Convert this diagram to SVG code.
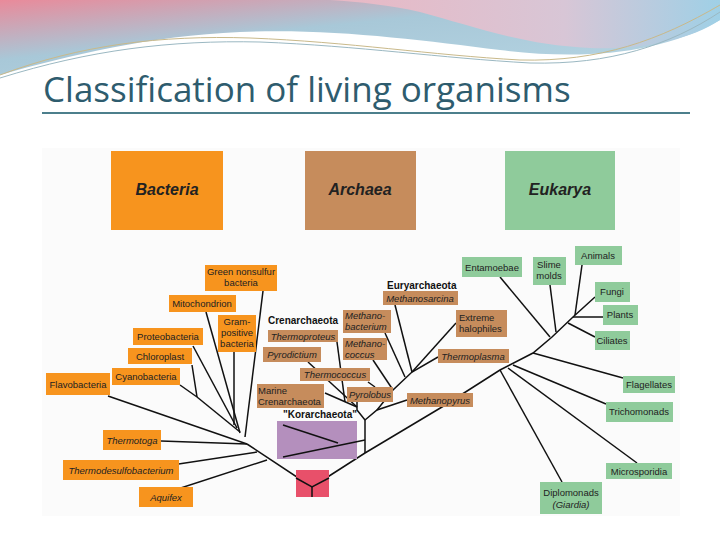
<svg xmlns="http://www.w3.org/2000/svg" width="720" height="540" viewBox="0 0 720 540">
<defs>
<linearGradient id="g1" x1="0" y1="0" x2="1" y2="1"><stop offset="0" stop-color="#e98a9a"/><stop offset="0.4" stop-color="#a8c8d8"/><stop offset="1" stop-color="#b7d6e4"/></linearGradient>
<linearGradient id="g2" x1="0" y1="0" x2="1" y2="0"><stop offset="0" stop-color="#e9b8c4"/><stop offset="0.6" stop-color="#d8c6d6"/><stop offset="1" stop-color="#9fd0e6"/></linearGradient>
<style>
.t{font-family:"Liberation Sans",Arial,sans-serif;font-size:9.5px;fill:#222}
.i{font-style:italic}
.h{font-family:"Liberation Sans",Arial,sans-serif;font-size:16px;font-weight:bold;font-style:italic;fill:#222;text-anchor:middle}
.b{font-family:"Liberation Sans",Arial,sans-serif;font-size:10px;font-weight:bold;fill:#111}
.o{fill:#f7941e}.r{fill:#c68c5c}.g{fill:#8fcb9b}
#edges line,#edges polyline{stroke:#111;stroke-width:1.5;fill:none}
</style>
</defs>
<rect width="720" height="540" fill="#fff"/>
<g id="header">
<path d="M0,0 H720 V20 C660,55 580,60 500,50 C420,40 330,28 240,32 C150,36 70,55 0,75 Z" fill="url(#g1)"/>
<path d="M330,0 H720 V20 C690,40 640,50 590,48 C520,45 470,25 420,12 C390,5 360,2 330,0 Z" fill="url(#g2)"/>
<path d="M0,75 C80,45 160,35 250,38 C350,42 430,55 520,60 C600,62 660,40 720,5" stroke="#c9b98a" stroke-width="1" fill="none"/>
<path d="M0,78 C90,50 170,40 260,42 C360,46 440,58 530,63 C610,65 670,45 720,12" stroke="#9bb8c2" stroke-width="1" fill="none"/>
</g>
<text x="43" y="102" font-family="'Open Sans','Liberation Sans',sans-serif" font-size="35" fill="#2e5c6e">Classification of living organisms</text>
<line x1="42" y1="113" x2="690" y2="113" stroke="#4c7f8c" stroke-width="2"/>
<rect x="42" y="148" width="638" height="368" fill="#fbfbfb"/>
<g id="domains">
<g id="bacteria"><rect class="o" x="111" y="151" width="112" height="79"/><text class="h" x="167" y="195">Bacteria</text></g>
<g id="archaea"><rect class="r" x="305" y="151" width="111" height="79"/><text class="h" x="360" y="195">Archaea</text></g>
<g id="eukarya"><rect class="g" x="505" y="151" width="110" height="79"/><text class="h" x="560" y="195">Eukarya</text></g>
</g>
<g id="edges">
<polyline points="312,497 312,487 247,444"/>
<line x1="161" y1="441" x2="247" y2="444"/>
<line x1="139" y1="470" x2="257" y2="452"/>
<line x1="153" y1="497" x2="267" y2="460"/>
<line x1="108" y1="396" x2="247" y2="444"/>
<line x1="263" y1="291" x2="245" y2="437"/>
<line x1="206" y1="312" x2="240" y2="433"/>
<line x1="234" y1="352" x2="234" y2="425"/>
<line x1="193" y1="346" x2="237" y2="428"/>
<line x1="192" y1="365" x2="197" y2="397"/>
<line x1="180" y1="385" x2="197" y2="397"/>
<line x1="197" y1="397" x2="240" y2="432"/>
<polyline points="312,487 365,453 442,407 500,370 533,353 552,337 573,317 595,297"/>
<line x1="365" y1="453" x2="365" y2="420"/>
<polyline points="365,420 357,410 357,402"/>
<line x1="337" y1="342" x2="345" y2="402"/>
<line x1="308" y1="362" x2="357" y2="407"/>
<line x1="325" y1="393" x2="357" y2="407"/>
<polyline points="365,420 377,410 407,400"/>
<polyline points="377,410 393,390 412,372 438,357"/>
<line x1="412" y1="372" x2="395" y2="305"/>
<line x1="405" y1="377" x2="385" y2="333"/>
<line x1="412" y1="372" x2="456" y2="323"/>
<line x1="373" y1="360" x2="393" y2="390"/>
<line x1="368" y1="382" x2="375" y2="387"/>
<line x1="500" y1="277" x2="550" y2="337"/>
<line x1="550" y1="285" x2="556" y2="332"/>
<line x1="582" y1="265" x2="575" y2="315"/>
<line x1="573" y1="317" x2="603" y2="317"/>
<line x1="568" y1="323" x2="595" y2="337"/>
<line x1="533" y1="353" x2="623" y2="378"/>
<line x1="513" y1="365" x2="606" y2="404"/>
<line x1="508" y1="368" x2="637" y2="463"/>
<line x1="500" y1="370" x2="562" y2="482"/>
</g>
<g id="roots">
<rect x="277" y="421" width="80" height="38" fill="#b48fbd"/>
<line x1="365" y1="440" x2="283" y2="457" stroke="#111" stroke-width="1.5"/>
<line x1="338" y1="443" x2="283" y2="425" stroke="#111" stroke-width="1.5"/>
<rect x="296" y="470" width="33" height="27" fill="#e8506a"/>
<polyline points="296,478 312,487 329,478" stroke="#111" stroke-width="1.5" fill="none"/>
<line x1="312" y1="487" x2="312" y2="497" stroke="#111" stroke-width="1.5"/>
</g>
<g id="bnodes">
<g id="n-green"><rect class="o" x="205" y="265" width="72" height="26"/><text class="t" x="241" y="275" text-anchor="middle">Green nonsulfur</text><text class="t" x="241" y="286" text-anchor="middle">bacteria</text></g>
<g id="n-mito"><rect class="o" x="169" y="295" width="67" height="17"/><text class="t" x="202" y="307" text-anchor="middle">Mitochondrion</text></g>
<g id="n-gram"><rect class="o" x="218" y="315" width="38" height="37"/><text class="t" x="237" y="325" text-anchor="middle">Gram-</text><text class="t" x="237" y="336" text-anchor="middle">positive</text><text class="t" x="237" y="347" text-anchor="middle">bacteria</text></g>
<g id="n-proteo"><rect class="o" x="133" y="328" width="70" height="17"/><text class="t" x="168" y="340" text-anchor="middle">Proteobacteria</text></g>
<g id="n-chloro"><rect class="o" x="128" y="348" width="64" height="16"/><text class="t" x="160" y="360" text-anchor="middle">Chloroplast</text></g>
<g id="n-cyano"><rect class="o" x="112" y="368" width="68" height="17"/><text class="t" x="146" y="380" text-anchor="middle">Cyanobacteria</text></g>
<g id="n-flavo"><rect class="o" x="46" y="373" width="64" height="22"/><text class="t" x="78" y="388" text-anchor="middle">Flavobacteria</text></g>
<g id="n-thermotoga"><rect class="o" x="103" y="430" width="58" height="20"/><text class="t i" x="132" y="444" text-anchor="middle">Thermotoga</text></g>
<g id="n-thermodesulfo"><rect class="o" x="63" y="460" width="116" height="20"/><text class="t i" x="121" y="474" text-anchor="middle">Thermodesulfobacterium</text></g>
<g id="n-aquifex"><rect class="o" x="139" y="487" width="54" height="20"/><text class="t i" x="166" y="501" text-anchor="middle">Aquifex</text></g>
</g>
<g id="anodes">
<text class="b" x="387" y="289">Euryarchaeota</text>
<text class="b" x="268" y="324">Crenarchaeota</text>
<text class="b" x="283" y="418">"Korarchaeota"</text>
<g id="n-msarcina"><rect class="r" x="383" y="291" width="75" height="14"/><text class="t i" x="420" y="302" text-anchor="middle">Methanosarcina</text></g>
<g id="n-mbact"><rect class="r" x="343" y="310" width="48" height="23"/><text class="t i" x="345" y="319">Methano-</text><text class="t i" x="345" y="330">bacterium</text></g>
<g id="n-tproteus"><rect class="r" x="268" y="330" width="70" height="12"/><text class="t i" x="303" y="340" text-anchor="middle">Thermoproteus</text></g>
<g id="n-mcoccus"><rect class="r" x="343" y="338" width="44" height="22"/><text class="t i" x="345" y="347">Methano-</text><text class="t i" x="345" y="358">coccus</text></g>
<g id="n-halo"><rect class="r" x="456" y="310" width="51" height="27"/><text class="t" x="459" y="321">Extreme</text><text class="t" x="459" y="332">halophiles</text></g>
<g id="n-pyrodict"><rect class="r" x="263" y="347" width="58" height="15"/><text class="t i" x="292" y="358" text-anchor="middle">Pyrodictium</text></g>
<g id="n-tplasma"><rect class="r" x="438" y="349" width="71" height="14"/><text class="t i" x="473" y="360" text-anchor="middle">Thermoplasma</text></g>
<g id="n-tcoccus"><rect class="r" x="300" y="368" width="70" height="13"/><text class="t i" x="335" y="378" text-anchor="middle">Thermococcus</text></g>
<g id="n-marine"><rect class="r" x="257" y="384" width="67" height="24"/><text class="t" x="258" y="394">Marine</text><text class="t" x="258" y="405">Crenarchaeota</text></g>
<g id="n-pyrolobus"><rect class="r" x="347" y="387" width="46" height="15"/><text class="t i" x="370" y="398" text-anchor="middle">Pyrolobus</text></g>
<g id="n-mpyrus"><rect class="r" x="407" y="393" width="66" height="14"/><text class="t i" x="440" y="404" text-anchor="middle">Methanopyrus</text></g>
</g>
<g id="enodes">
<g id="n-entam"><rect class="g" x="462" y="257" width="60" height="20"/><text class="t" x="492" y="271" text-anchor="middle">Entamoebae</text></g>
<g id="n-slime"><rect class="g" x="533" y="257" width="33" height="28"/><text class="t" x="549" y="268" text-anchor="middle">Slime</text><text class="t" x="549" y="279" text-anchor="middle">molds</text></g>
<g id="n-animals"><rect class="g" x="575" y="246" width="47" height="19"/><text class="t" x="598" y="259" text-anchor="middle">Animals</text></g>
<g id="n-fungi"><rect class="g" x="595" y="282" width="35" height="20"/><text class="t" x="612" y="295" text-anchor="middle">Fungi</text></g>
<g id="n-plants"><rect class="g" x="603" y="305" width="35" height="20"/><text class="t" x="620" y="318" text-anchor="middle">Plants</text></g>
<g id="n-ciliates"><rect class="g" x="595" y="331" width="35" height="19"/><text class="t" x="612" y="344" text-anchor="middle">Ciliates</text></g>
<g id="n-flag"><rect class="g" x="623" y="376" width="52" height="17"/><text class="t" x="649" y="388" text-anchor="middle">Flagellates</text></g>
<g id="n-tricho"><rect class="g" x="606" y="402" width="67" height="20"/><text class="t" x="639" y="415" text-anchor="middle">Trichomonads</text></g>
<g id="n-micro"><rect class="g" x="606" y="463" width="66" height="16"/><text class="t" x="639" y="475" text-anchor="middle">Microsporidia</text></g>
<g id="n-diplo"><rect class="g" x="540" y="482" width="62" height="32"/><text class="t" x="571" y="496" text-anchor="middle">Diplomonads</text><text class="t i" x="571" y="508" text-anchor="middle">(Giardia)</text></g>
</g>
</svg>
